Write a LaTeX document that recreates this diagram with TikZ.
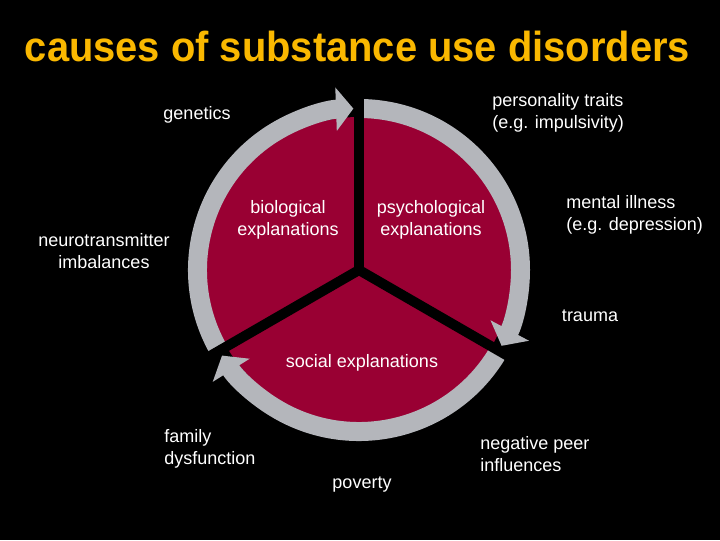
\documentclass[tikz,border=0pt]{standalone}
\usepackage{fontspec}
\setmainfont{Liberation Sans}
\usetikzlibrary{arrows.meta}
\definecolor{titlegold}{RGB}{250,184,0}
\definecolor{wedgered}{RGB}{153,0,51}
\definecolor{ringgray}{RGB}{180,182,187}
\tikzset{
  heading/.style={text=titlegold, font=\fontsize{31.5}{36}\selectfont\bfseries, inner sep=0pt},
  cause/.style={text=white, font=\fontsize{13.5}{16.3}\selectfont, align=center, inner sep=0pt},
  leftcause/.style={cause, align=left, anchor=west},
  ring/.style={draw=ringgray, line width=14.25pt, -{Triangle[width=32pt,length=13pt]}},
  divider/.style={draw=black, line width=7.5pt},
}

\begin{document}
\begin{tikzpicture}[x=0.75pt, y=0.75pt]
    \fill[black] (0,0) rectangle (720,540);
    \coordinate (c) at (359,270);

    \node[heading, anchor=base] (title) at (357.5,478)
        {\scalebox{0.95}[1]{causes of substance use disorders}};

    % disc and ring
    \fill[wedgered] (c) circle (153);
    \draw[ring] ([shift={(210:161.5)}]c) arc[start angle=210, end angle=92, radius=161.5];
    \draw[ring] ([shift={(90:161.5)}]c) arc[start angle=90, end angle=-28, radius=161.5];
    \draw[ring] ([shift={(-30:161.5)}]c) arc[start angle=-30, end angle=-148, radius=161.5];

    % dividers
    \coordinate (top) at ([shift={(90:172)}]c);
    \coordinate (lowleft) at ([shift={(210:172)}]c);
    \coordinate (lowright) at ([shift={(-30:172)}]c);
    \draw[divider] (c) -- (top);
    \draw[divider] (c) -- (lowleft);
    \draw[divider] (c) -- (lowright);

    % explanations
    \node[cause] (bio) at (288,320) {biological\\explanations};
    \node[cause] (psych) at (431,320) {psychological\\explanations};
    \node[cause] (social) at (362,177) {social explanations};

    % causes
    \node[cause] (genetics) at (197,425) {genetics};
    \node[cause] (neuro) at (104,289) {neurotransmitter\\imbalances};
    \node[leftcause] (personality) at (492,427) {personality traits\\(e.g. impulsivity)};
    \node[leftcause] (mental) at (566,325) {mental illness\\(e.g. depression)};
    \node[cause] (trauma) at (590,224) {trauma};
    \node[leftcause] (family) at (164,91) {family\\dysfunction};
    \node[leftcause] (peer) at (480,86) {negative peer\\influences};
    \node[cause] (poverty) at (362,55) {poverty};
\end{tikzpicture}
\end{document}
